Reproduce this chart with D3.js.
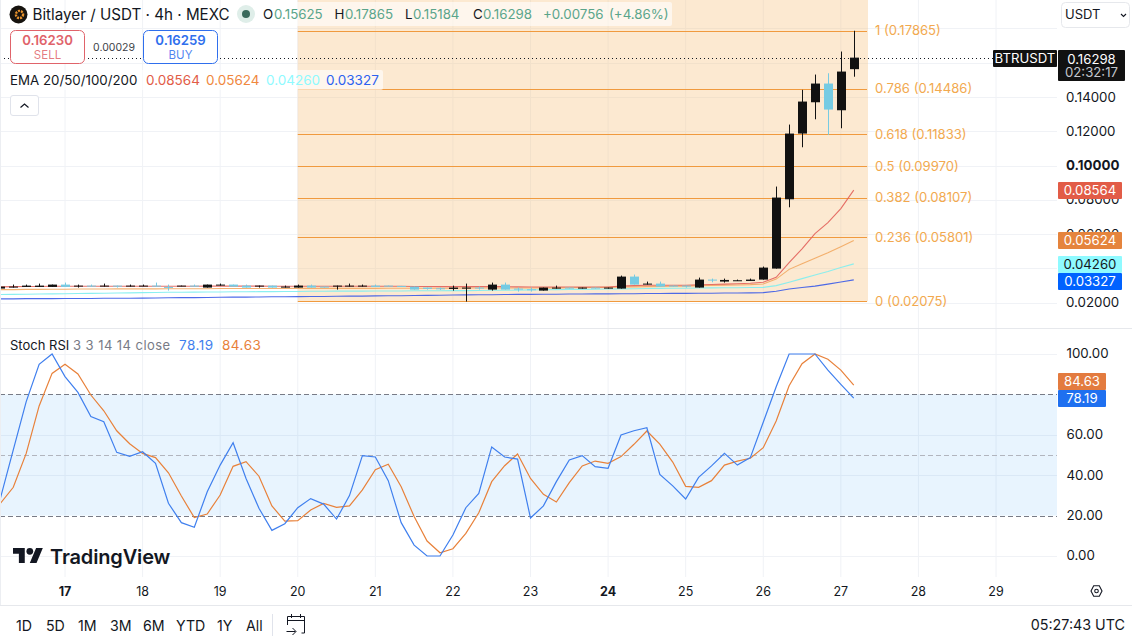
<!DOCTYPE html>
<html>
<head>
<meta charset="utf-8">
<title>BTRUSDT</title>
<script src="https://cdn.jsdelivr.net/npm/d3@7"></script>
<style>
  html, body { margin: 0; padding: 0; background: #fff; overflow: hidden; }
  svg { display: block; font-family: Inter, "Noto Sans", sans-serif; }
</style>
</head>
<body>
<svg id="chart" width="1132" height="642"></svg>
<script>
// Candles, 4h bars
const opens = [.02817,.02876,.02915,.02915,.02915,.03051,.02934,.02992,.02934,.02992,.02934,.02953,.02992,.02915,.02953,.02992,.02876,.02992,.03051,.02992,.02934,.02992,.02876,.02876,.02992,.02934,.02953,.02934,.02934,.02992,.02992,.02972,.02934,.02876,.02836,.02798,.02817,.02876,.02759,.03051,.02817,.02778,.02701,.02817,.02876,.02817,.02876,.02817,.02817,.03518,.03051,.03109,.02992,.02992,.02876,.03343,.03226,.03264,.03264,.03343,.03985,.0803,.11866,.13693,.14785,.13226,.15625];
const closes = [.02934,.02934,.02992,.02992,.03051,.02915,.02992,.02934,.02992,.02934,.02992,.02992,.02934,.02856,.02992,.02934,.03051,.03051,.02934,.02876,.02992,.02876,.02934,.02992,.02876,.02876,.02992,.02992,.02992,.02915,.02934,.02915,.02759,.02798,.02778,.02876,.02876,.02817,.03051,.02759,.02759,.0272,.02876,.02876,.02817,.02876,.02817,.02876,.03518,.03051,.03109,.02934,.02934,.02934,.03343,.03284,.03323,.03304,.03343,.04043,.0813,.11866,.13734,.14785,.13267,.15485,.16298];
const highs = [.02934,.03051,.03051,.03109,.03051,.03168,.03051,.03051,.03109,.02992,.03051,.03051,.03168,.03051,.02992,.03051,.03051,.03109,.03051,.03051,.02992,.02992,.02992,.03051,.03051,.02934,.02992,.03109,.03051,.03051,.02992,.02972,.02934,.02876,.02876,.02992,.03109,.02934,.03168,.03168,.02876,.02876,.02876,.02992,.02876,.02876,.02876,.02876,.03576,.03635,.03226,.03226,.02992,.02992,.03459,.03401,.03401,.03343,.03401,.04102,.08772,.12391,.14417,.1531,.15386,.16653,.17865];
const lows = [.02817,.02876,.02915,.02915,.02915,.02915,.02876,.02934,.02934,.02876,.02934,.02953,.02934,.02701,.02953,.02934,.02876,.02992,.02934,.02876,.02876,.02876,.02876,.02876,.02876,.02876,.02759,.02934,.02934,.02915,.02934,.02915,.02759,.02759,.02739,.02701,.02058,.02759,.02701,.02759,.02642,.02642,.02701,.02817,.02817,.02817,.02817,.02817,.02817,.03051,.03051,.02934,.02934,.02876,.02876,.03187,.03168,.03264,.03264,.03343,.03985,.07563,.11066,.127,.1179,.12175,.15184];

// EMA lines
const ema20 = [.0292,.0293,.0294,.0294,.0295,.0295,.0295,.0295,.0295,.0295,.0295,.0295,.0295,.0295,.0295,.0295,.0296,.0296,.0296,.0296,.0296,.0295,.0295,.0295,.0295,.0295,.0295,.0295,.0295,.0295,.0295,.0295,.0294,.0294,.0293,.0293,.0293,.0293,.0294,.0293,.0292,.0291,.0291,.0291,.0291,.0291,.0291,.0291,.0296,.0299,.0301,.0301,.0301,.0301,.0304,.0306,.0308,.0310,.0313,.0319,.0348,.0433,.0514,.0603,.0667,.0749,.08564];
const ema50 = [.0276,.0276,.0277,.0277,.0278,.0278,.0279,.0279,.0279,.0280,.0280,.0280,.0280,.0281,.0281,.0281,.0281,.0282,.0282,.0282,.0282,.0282,.0283,.0283,.0283,.0283,.0283,.0283,.0283,.0283,.0284,.0284,.0284,.0284,.0284,.0284,.0285,.0285,.0285,.0285,.0285,.0285,.0286,.0286,.0287,.0288,.0288,.0289,.0291,.0292,.0293,.0294,.0295,.0296,.0299,.0300,.0302,.0303,.0305,.0309,.0337,.0394,.0427,.0459,.0491,.0526,.05624];
const ema100 = [.0247,.0248,.0249,.0250,.0251,.0252,.0253,.0254,.0255,.0256,.0257,.0258,.0259,.0260,.0260,.0261,.0262,.0262,.0263,.0263,.0264,.0264,.0265,.0265,.0266,.0266,.0267,.0267,.0267,.0268,.0268,.0268,.0269,.0269,.0269,.0270,.0270,.0271,.0272,.0272,.0273,.0274,.0275,.0276,.0277,.0277,.0278,.0279,.0280,.0281,.0282,.0283,.0284,.0284,.0285,.0286,.0287,.0287,.0288,.0289,.0299,.0319,.0340,.0361,.0381,.0405,.04260];
const ema200 = [.0222,.0222,.0223,.0223,.0223,.0224,.0224,.0224,.0225,.0225,.0225,.0226,.0227,.0228,.0229,.0229,.0230,.0231,.0232,.0232,.0233,.0234,.0234,.0235,.0236,.0236,.0237,.0238,.0238,.0239,.0240,.0240,.0241,.0242,.0243,.0244,.0245,.0246,.0246,.0247,.0248,.0248,.0249,.0249,.0250,.0250,.0251,.0251,.0252,.0252,.0253,.0253,.0254,.0254,.0255,.0255,.0256,.0256,.0257,.0258,.0266,.0279,.0288,.0296,.0308,.0320,.03327];

// Stoch RSI
const stochK = [28.5,52.5,76.4,94.9,100,88.8,81,69,66.5,51.3,49.3,51.6,45.9,26.1,16.5,14.2,31.8,45,56.1,38.4,23.6,12.7,16,23.9,28.4,25.7,18.3,29.9,49.7,49,37.3,16.5,5.4,0,0,10.4,23.9,31,54,49,48,18.8,24.8,36.8,47.5,49.7,44.2,43.4,59.9,62,63.5,40.4,34.7,28.2,38.9,44.6,50.8,45,48.7,66.2,83.8,100,100,100,92,85,78.19];
const stochD = [26,34,50.8,74.3,90.4,94.9,90.1,79.7,71.9,62,55.6,50.8,48.7,41.2,29.7,19,20.8,30.2,44.4,46.7,39.5,24.8,17.3,17.5,22.8,26,24.1,24.8,32.7,42.7,45.4,34.3,19.5,7.4,1.6,3.6,11.2,21.4,36.8,44.7,50.5,38.4,30.5,26.7,36.3,44.6,47,45.9,49.2,55.3,61.9,55.4,46.5,34.5,34,37.3,45,47,48.4,53.6,66.8,84.3,95.2,100,97.4,92,84.63];

// Axes and levels
const dayTicks = [17, 18, 19, 20, 21, 22, 23, 24, 25, 26, 27, 28, 29];
const boldDays = [17, 24];
const gridPrices = [0.02, 0.04, 0.06, 0.08, 0.10, 0.12, 0.14, 0.16, 0.18];
const labelPrices = [0.02, 0.06, 0.08, 0.10, 0.12, 0.14];
const stochTicks = [0, 20, 40, 60, 100];
const stochGrid = [0, 40, 60, 100];
const fibRatios = ["0", "0.236", "0.382", "0.5", "0.618", "0.786", "1"];
const fibPrices = [0.02075, 0.05801, 0.08107, 0.0997, 0.11833, 0.14486, 0.17865];
const rangeButtons = ["1D", "5D", "1M", "3M", "6M", "YTD", "1Y", "All"];
const rangeButtonX = [16, 46, 78, 110, 143, 176, 217, 246];

const paneRight = 1057;
const svg = d3.select("#chart");
const fmt5 = d3.format(".5f");

// Scales
const xDay = d3.scaleLinear().domain([17, 29]).range([65, 996]);
const xBar = i => xDay(17 + (i - 5) / 6);
const yPrice = d3.scaleLinear().domain([0.02, 0.14]).range([302.6, 97]);
const yStoch = d3.scaleLinear().domain([0, 100]).range([556, 354]);

// Grid lines
const grid = svg.append("g");
grid.selectAll("line.v").data(dayTicks).enter().append("line")
    .attr("x1", d => xDay(d)).attr("x2", d => xDay(d))
    .attr("y1", 0).attr("y2", 577)
    .attr("stroke", "#f0f2f6");
grid.selectAll("line.hp").data(gridPrices).enter().append("line")
    .attr("x1", 0).attr("x2", paneRight)
    .attr("y1", d => Math.round(yPrice(d)) + 0.5).attr("y2", d => Math.round(yPrice(d)) + 0.5)
    .attr("stroke", "#f0f2f6");
grid.selectAll("line.hs").data(stochGrid).enter().append("line")
    .attr("x1", 0).attr("x2", paneRight)
    .attr("y1", d => Math.round(yStoch(d)) + 0.5).attr("y2", d => Math.round(yStoch(d)) + 0.5)
    .attr("stroke", "#f0f2f6");

// Fibonacci zone
svg.append("rect")
    .attr("x", xDay(20)).attr("y", 0)
    .attr("width", 868 - xDay(20)).attr("height", yPrice(fibPrices[0]))
    .attr("fill", "#f6c37f").attr("fill-opacity", 0.36);
svg.selectAll("line.fib").data(fibPrices).enter().append("line")
    .attr("x1", xDay(20)).attr("x2", 867)
    .attr("y1", d => Math.round(yPrice(d)) + 0.5).attr("y2", d => Math.round(yPrice(d)) + 0.5)
    .attr("stroke", "#f09a3e").attr("stroke-width", 1);
svg.selectAll("text.fib").data(fibPrices).enter().append("text")
    .attr("x", 875).attr("y", d => yPrice(d) + 4.5)
    .attr("font-size", 13.1).attr("fill", "#f2a94f")
    .text((d, i) => `${fibRatios[i]} (${fmt5(d)})`);

// EMA lines
const emaLine = d3.line().x((d, i) => xBar(i)).y(d => yPrice(d));
[[ema200, "#3a5be8"], [ema100, "#7eeef0"], [ema50, "#f2a860"], [ema20, "#e2605a"]].forEach(([vals, col]) => {
    svg.append("path").datum(vals)
        .attr("d", emaLine).attr("fill", "none")
        .attr("stroke", col).attr("stroke-width", 1.1).attr("stroke-opacity", 0.9);
});

// Candles
const candle = svg.append("g").selectAll("g").data(d3.range(opens.length)).enter().append("g")
    .attr("fill", i => closes[i] >= opens[i] ? "#111111" : "#76cbe3")
    .attr("stroke", i => closes[i] >= opens[i] ? "#111111" : "#76cbe3");
candle.append("line")
    .attr("x1", i => Math.round(xBar(i)) + 0.5).attr("x2", i => Math.round(xBar(i)) + 0.5)
    .attr("y1", i => yPrice(highs[i])).attr("y2", i => yPrice(lows[i]));
candle.append("rect")
    .attr("x", i => Math.round(xBar(i)) - 4).attr("width", 9)
    .attr("y", i => yPrice(Math.max(opens[i], closes[i])))
    .attr("height", i => Math.max(1, Math.abs(yPrice(opens[i]) - yPrice(closes[i]))))
    .attr("stroke", "none");

// Last price dotted line
svg.append("line")
    .attr("x1", 0).attr("x2", 993)
    .attr("y1", Math.round(yPrice(closes[closes.length - 1])) + 0.5)
    .attr("y2", Math.round(yPrice(closes[closes.length - 1])) + 0.5)
    .attr("stroke", "#131722").attr("stroke-dasharray", "1 3");

// Stoch pane
svg.append("rect")
    .attr("x", 0).attr("y", yStoch(80))
    .attr("width", paneRight).attr("height", yStoch(20) - yStoch(80))
    .attr("fill", "#2196f3").attr("fill-opacity", 0.1);
svg.selectAll("line.band").data([80, 50, 20]).enter().append("line")
    .attr("x1", 0).attr("x2", paneRight)
    .attr("y1", d => Math.round(yStoch(d)) + 0.5).attr("y2", d => Math.round(yStoch(d)) + 0.5)
    .attr("stroke", d => d === 50 ? "#b2b5be" : "#787b86")
    .attr("stroke-dasharray", "5 3");
const stochLine = d3.line().x((d, i) => xBar(i)).y(d => yStoch(d));
svg.append("path").datum(stochD).attr("d", stochLine).attr("fill", "none")
    .attr("stroke", "#e8813a").attr("stroke-width", 1.2);
svg.append("path").datum(stochK).attr("d", stochLine).attr("fill", "none")
    .attr("stroke", "#3f7fee").attr("stroke-width", 1.2);

// Pane separators
[[328.5], [605.5]].forEach(([y]) => {
    svg.append("line").attr("x1", 0).attr("x2", 1132).attr("y1", y).attr("y2", y).attr("stroke", "#e6e8ec");
});
svg.append("line").attr("x1", 0.5).attr("x2", 0.5).attr("y1", 0).attr("y2", 605).attr("stroke", "#eceef2");

// Axis labels
function tickText(sel, x) {
    return sel.attr("x", x).attr("font-size", 13.3).attr("fill", "#131722");
}
tickText(svg.selectAll("text.p").data(labelPrices).enter().append("text"), 1066)
    .attr("y", d => yPrice(d) + 4.5)
    .attr("font-weight", d => d === 0.10 ? 700 : 400)
    .text(d => fmt5(d));
tickText(svg.selectAll("text.s").data(stochTicks).enter().append("text"), 1066.5)
    .attr("y", d => yStoch(d) + 4.3)
    .text(d => d.toFixed(2));
svg.selectAll("text.d").data(dayTicks).enter().append("text")
    .attr("x", d => xDay(d)).attr("y", 595.5)
    .attr("text-anchor", "middle").attr("font-size", 12.5).attr("fill", "#131722")
    .attr("font-weight", d => boldDays.includes(d) ? 700 : 400)
    .text(d => d);

// Price tags on the right
function tag(x, y, w, h, bg, col, label) {
    svg.append("rect").attr("x", x).attr("y", y).attr("width", w).attr("height", h).attr("fill", bg).attr("rx", 1);
    svg.append("text").attr("x", x + w / 2).attr("y", y + h / 2 + 4.5)
        .attr("text-anchor", "middle").attr("font-size", 13.2).attr("fill", col).text(label);
}
const lastEma = [ema20, ema50, ema100, ema200].map(a => a[a.length - 1]);
tag(1058, 182, 64, 17, "#e25c47", "#fff", "0.08564");
tag(1058, 232, 64, 17, "#e5843d", "#fff", "0.05624");
tag(1058, 256, 64, 17, "#8ffaff", "#131722", "0.04260");
tag(1058, 273, 64, 17, "#0062ff", "#fff", "0.03327");
tag(1058, 373, 48, 17, "#e37b3f", "#fff", "84.63");
tag(1058, 390, 48, 17, "#1f70f0", "#fff", "78.19");
tag(993, 50, 64, 17, "#111111", "#fff", "BTRUSDT");
svg.append("rect").attr("x", 1058).attr("y", 50).attr("width", 67).attr("height", 31).attr("fill", "#111111").attr("rx", 1);
svg.append("text").attr("x", 1091.5).attr("y", 63.5).attr("text-anchor", "middle").attr("font-size", 13.2).attr("fill", "#fff").text("0.16298");
svg.append("text").attr("x", 1091.5).attr("y", 77).attr("text-anchor", "middle").attr("font-size", 13.2).attr("fill", "#c4c6cc").text("02:32:17");

// Header
svg.append("circle").attr("cx", 18.5).attr("cy", 14.5).attr("r", 9).attr("fill", "#16130f");
svg.append("circle").attr("cx", 19.5).attr("cy", 14.5).attr("r", 3.6).attr("fill", "none").attr("stroke", "#e8922c").attr("stroke-width", 2.4).attr("stroke-dasharray", "2 1");
svg.append("text").attr("x", 32.5).attr("y", 20).attr("font-size", 15.2).attr("fill", "#131722").text("Bitlayer / USDT · 4h · MEXC");
svg.append("circle").attr("cx", 246).attr("cy", 14).attr("r", 9).attr("fill", "#dfeee9");
svg.append("circle").attr("cx", 246).attr("cy", 14).attr("r", 4).attr("fill", "#3b6b5d");

svg.append("rect").attr("x", 262).attr("y", 2).attr("width", 410).attr("height", 24).attr("fill", "#fff").attr("fill-opacity", 0.6).attr("rx", 2);
const ohlcLabels = [["O", 263, "0.15625", 274], ["H", 334.5, "0.17865", 345], ["L", 405, "0.15184", 413], ["C", 473, "0.16298", 483]];
ohlcLabels.forEach(([a, ax, b, bx]) => {
    svg.append("text").attr("x", ax).attr("y", 19).attr("font-size", 13.3).attr("fill", "#131722").text(a);
    svg.append("text").attr("x", bx).attr("y", 19).attr("font-size", 13.3).attr("fill", "#5aa58b").text(b);
});
svg.append("text").attr("x", 543).attr("y", 19).attr("font-size", 13.3).attr("fill", "#5aa58b").text("+0.00756");
svg.append("text").attr("x", 609).attr("y", 19).attr("font-size", 13.3).attr("fill", "#5aa58b").text("(+4.86%)");

// Sell and buy boxes
function tradeBox(x, col, price, word) {
    svg.append("rect").attr("x", x + 0.5).attr("y", 30.5).attr("width", 74).attr("height", 33).attr("rx", 5)
        .attr("fill", "#fff").attr("stroke", col);
    svg.append("text").attr("x", x + 37.5).attr("y", 44.5).attr("text-anchor", "middle").attr("font-size", 13.2).attr("font-weight", 600).attr("fill", col).text(price);
    svg.append("text").attr("x", x + 37.5).attr("y", 58.5).attr("text-anchor", "middle").attr("font-size", 11.5).attr("fill", col).attr("fill-opacity", 0.85).text(word);
}
tradeBox(10, "#e0636a", "0.16230", "SELL");
tradeBox(143, "#2f6fed", "0.16259", "BUY");
svg.append("rect").attr("x", 90).attr("y", 40).attr("width", 48).attr("height", 14).attr("fill", "#fff");
svg.append("text").attr("x", 114).attr("y", 51).attr("text-anchor", "middle").attr("font-size", 10.5).attr("fill", "#3c3f47").text("0.00029");

// EMA legend
svg.append("rect").attr("x", 7).attr("y", 70).attr("width", 376).attr("height", 20).attr("fill", "#fff").attr("fill-opacity", 0.6).attr("rx", 2);
svg.append("text").attr("x", 10).attr("y", 85).attr("font-size", 13.3).attr("fill", "#131722").text("EMA 20/50/100/200");
const legendX = [146, 206, 266, 326];
const legendCol = ["#e25c47", "#f0883e", "#8ffaff", "#2c62f0"];
lastEma.forEach((v, i) => {
    svg.append("text").attr("x", legendX[i]).attr("y", 85).attr("font-size", 13.5).attr("fill", legendCol[i]).text(fmt5(v));
});
svg.append("rect").attr("x", 10.5).attr("y", 95.5).attr("width", 28).attr("height", 20).attr("rx", 2.5).attr("fill", "#fff").attr("stroke", "#e0e3eb");
svg.append("path").attr("d", "M20.5 107.5l4-3.5 4 3.5").attr("fill", "none").attr("stroke", "#131722").attr("stroke-width", 1.2);

// Stoch legend
svg.append("text").attr("x", 10).attr("y", 350).attr("font-size", 13).attr("fill", "#131722").text("Stoch RSI");
svg.append("text").attr("x", 73).attr("y", 350).attr("font-size", 13).attr("letter-spacing", "0.45").attr("fill", "#787b86").text("3 3 14 14 close");
svg.append("text").attr("x", 179).attr("y", 350).attr("font-size", 13.5).attr("letter-spacing", "0.5").attr("fill", "#3f7fee").text("78.19");
svg.append("text").attr("x", 222).attr("y", 350).attr("font-size", 13.5).attr("letter-spacing", "0.5").attr("fill", "#e8813a").text("84.63");

// USDT selector
svg.append("rect").attr("x", 1061.5).attr("y", 2.5).attr("width", 68).attr("height", 25).attr("rx", 4).attr("fill", "#fff").attr("stroke", "#e6e8ec");
svg.append("text").attr("x", 1065).attr("y", 19).attr("font-size", 13).attr("fill", "#131722").text("USDT");
svg.append("path").attr("d", "M1121 14l2.5 2.5 2.5-2.5").attr("fill", "none").attr("stroke", "#131722").attr("stroke-width", 1.1);

// TradingView logo
const logo = svg.append("g").attr("transform", "translate(13,544.6) scale(0.84)").attr("fill", "#131722");
logo.append("path").attr("d", "M14 22H7V11H0V4h14v18zM28 22h-8l7.5-18h8L28 22z");
logo.append("circle").attr("cx", 20).attr("cy", 8).attr("r", 4);
svg.append("text").attr("x", 50).attr("y", 564).attr("font-size", 20).attr("font-weight", 600).attr("letter-spacing", "-0.15").attr("fill", "#131722").text("TradingView");

// Gear on the time axis
svg.append("path").attr("d", "M1091 591l2.7-5.2h5.6l2.7 5.2-2.7 5.2h-5.6z").attr("fill", "none").attr("stroke", "#131722").attr("stroke-width", 1.1);
svg.append("circle").attr("cx", 1096.5).attr("cy", 591).attr("r", 1.8).attr("fill", "none").attr("stroke", "#131722").attr("stroke-width", 1.1);

// Bottom toolbar
svg.selectAll("text.btn").data(rangeButtons).enter().append("text")
    .attr("x", (d, i) => rangeButtonX[i]).attr("y", 631)
    .attr("font-size", 14.2).attr("fill", "#131722").text(d => d);
svg.append("line").attr("x1", 272.5).attr("x2", 272.5).attr("y1", 614).attr("y2", 636).attr("stroke", "#e0e3eb");
svg.append("path")
    .attr("d", "M287.5 625v-8.5h17v16.5h-3M287.5 620.5h17M291.5 614v4M300.5 614v4M286.5 631.5h9M292.5 628l3.5 3.5-3.5 3.5")
    .attr("fill", "none").attr("stroke", "#131722").attr("stroke-width", 1);
svg.append("text").attr("x", 1125).attr("y", 630).attr("text-anchor", "end").attr("font-size", 14.3).attr("fill", "#131722").text("05:27:43 UTC");
</script>
</body>
</html>
